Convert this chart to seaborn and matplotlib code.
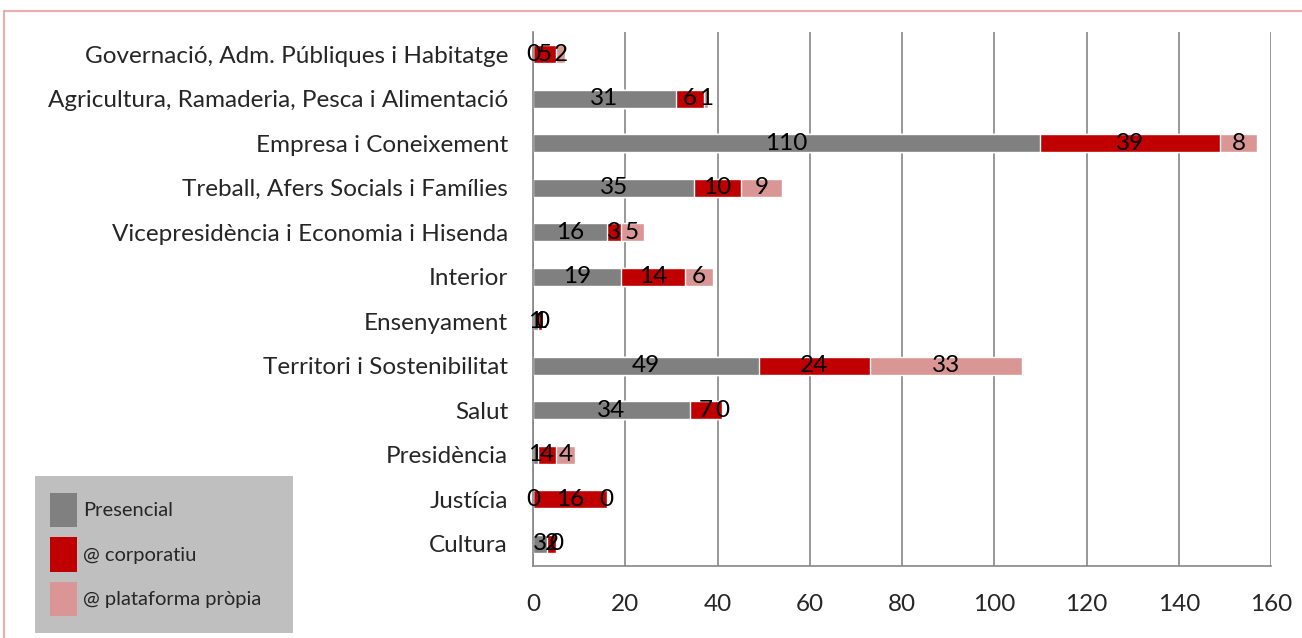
import matplotlib
matplotlib.use("Agg")
import matplotlib.pyplot as plt
from matplotlib.patches import Rectangle, Patch
import seaborn as sns
import numpy as np
import pandas as pd

categories = [
    "Governació, Adm. Públiques i Habitatge",
    "Agricultura, Ramaderia, Pesca i Alimentació",
    "Empresa i Coneixement",
    "Treball, Afers Socials i Famílies",
    "Vicepresidència i Economia i Hisenda",
    "Interior",
    "Ensenyament",
    "Territori i Sostenibilitat",
    "Salut",
    "Presidència",
    "Justícia",
    "Cultura",
]
presencial = [0, 31, 110, 35, 16, 19, 1, 49, 34, 1, 0, 3]
corporatiu = [5, 6, 39, 10, 3, 14, 1, 24, 7, 4, 16, 2]
plataforma = [2, 1, 8, 9, 5, 6, 0, 33, 0, 4, 0, 0]
series_names = ["Presencial", "@ corporatiu", "@ plataforma pròpia"]
xticks = [0, 20, 40, 60, 80, 100, 120, 140, 160]

c_pres = "#808080"
c_corp = "#C00000"
c_plat = "#D99694"

sns.set_style("white")
plt.rcParams["font.family"] = ["Lato", "DejaVu Sans"]

df = pd.DataFrame({"cat": categories, "p": presencial, "c": corporatiu, "f": plataforma})
df["pc"] = df["p"] + df["c"]
df["pcf"] = df["pc"] + df["f"]

fig = plt.figure(figsize=(13.02, 6.38), dpi=100)
ax = fig.add_axes([533/1302, 1-566/638, (1271-533)/1302, (566-32)/638])

bw = 0.4
sns.barplot(data=df, x="pcf", y="cat", order=categories, orient="h", color=c_plat,
            width=bw, saturation=1, ax=ax)
sns.barplot(data=df, x="pc", y="cat", order=categories, orient="h", color=c_corp,
            width=bw, saturation=1, ax=ax)
sns.barplot(data=df, x="p", y="cat", order=categories, orient="h", color=c_pres,
            width=bw, saturation=1, ax=ax)

fs = 17.5
for i in range(len(categories)):
    left = 0
    for v in (presencial[i], corporatiu[i], plataforma[i]):
        ax.text(left + v/2, i, str(v), ha="center", va="center", fontsize=fs, color="black")
        left += v

ax.set_xlim(0, 160)
ax.set_ylim(len(categories)-0.5, -0.5)
ax.set_xticks(xticks)
ax.set_xticklabels([str(t) for t in xticks], fontsize=fs)
ax.set_xlabel("")
ax.set_ylabel("")
ax.tick_params(axis="y", which="major", length=0, labelsize=fs, pad=18)
ax.set_yticks(np.arange(-0.5, len(categories)), minor=True)
ax.tick_params(axis="y", which="minor", length=6, color="#868686", width=1.2, direction="out")
ax.tick_params(axis="x", length=7, color="#868686", width=1.2, direction="out", pad=13)
ax.grid(axis="x", color="#868686", linewidth=1.2)
ax.set_axisbelow(True)
for s in ["top", "right"]:
    ax.spines[s].set_visible(False)
for s in ["left", "bottom"]:
    ax.spines[s].set_color("#868686")
    ax.spines[s].set_linewidth(1.2)

# legend background box
fig.patches.append(Rectangle((35/1302, 1-633/638), 258/1302, 157/638,
                             transform=fig.transFigure, facecolor="#BFBFBF",
                             edgecolor="none", zorder=0))
handles = [Patch(facecolor=c, edgecolor="none") for c in (c_pres, c_corp, c_plat)]
fig.legend(handles, series_names, loc="upper left",
           bbox_to_anchor=(50/1302, 1-493/638), frameon=False, fontsize=14.5,
           handlelength=1.35, handleheight=2.25, labelspacing=0.5, handletextpad=0.3,
           borderpad=0, borderaxespad=0)

# outer border
fig.patches.append(Rectangle((3.5/1302, -0.5), 2, 1.5-10.5/638, transform=fig.transFigure,
                             facecolor="none", edgecolor="#E6B0AE", linewidth=1.6, zorder=5))

fig.savefig("out.png", dpi=100)
